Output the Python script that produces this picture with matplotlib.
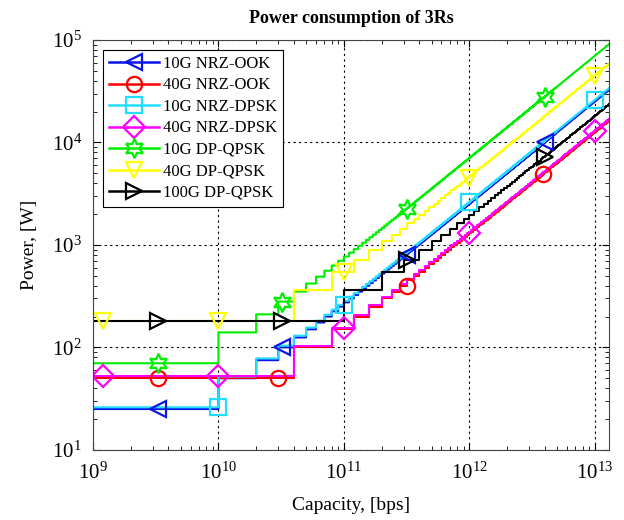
import numpy as np
import matplotlib
matplotlib.use('Agg')
import matplotlib.pyplot as plt
from matplotlib.lines import Line2D

plt.rcParams['font.family'] = ['Liberation Serif', 'DejaVu Serif']
plt.rcParams['mathtext.fontset'] = 'stix'

# ==========================================
# 数据：每种格式的速率和单个 3R 的功耗
# ==========================================
labels = ['10G NRZ-OOK', '40G NRZ-OOK', '10G NRZ-DPSK', '40G NRZ-DPSK',
          '10G DP-QPSK', '40G DP-QPSK', '100G DP-QPSK']
line_rate = [10e9, 40e9, 10e9, 40e9, 10e9, 40e9, 100e9]      # bps
unit_power = [25, 50, 26, 52, 70, 180, 180]                   # W per 3R
colors = ['#0a14e6', '#ff0000', '#22ddff', '#ff00ff', '#00ee00', '#ffff00', '#000000']
markers = ['<', 'o', 's', 'D', (6, 1, 0), 'v', '>']

# 标记点所在的容量位置
marker_caps = [
    [3.3e9, 3.2e10, 3.2e11, 4.0e12],
    [3.3e9, 3.0e10, 3.2e11, 3.9e12],
    [1e10, 1e11, 1e12, 1e13],
    [1.2e9, 1e10, 1e11, 1e12, 1e13],
    [3.3e9, 3.2e10, 3.2e11, 4.0e12],
    [1.2e9, 1e10, 1e11, 1e12, 1e13],
    [3.3e9, 3.2e10, 3.2e11, 4.0e12],
]

cap_min, cap_max = 1e9, 1.3e13


def staircase(rate, unit):
    # 3R 数量 = ceil(容量 / 速率)
    n_max = int(np.ceil(cap_max / rate))
    x = np.concatenate([[cap_min], rate * np.arange(1, n_max + 1)])
    y = unit * np.concatenate([[1], np.arange(2, n_max + 2)])
    return x, y


fig = plt.figure(figsize=(6.24, 5.2), dpi=100)
ax = fig.add_axes([0.149, 0.135, 0.827, 0.788])

for rate, unit, c in zip(line_rate, unit_power, colors):
    x, y = staircase(rate, unit)
    ax.plot(x, y, color=c, lw=1.5, drawstyle='steps-post')

handles = []
for i, lab in enumerate(labels):
    mc = np.array(marker_caps[i])
    my = unit_power[i] * np.ceil(mc / line_rate[i])
    ms = 14 if i == 4 else 11
    ax.plot(mc, my, ls='none', marker=markers[i], ms=ms, mfc='none',
            mec=colors[i], mew=1.6)
    handles.append(Line2D([], [], color=colors[i], lw=1.8, marker=markers[i],
                          ms=ms, mfc='none', mec=colors[i], mew=1.6, label=lab))

ax.set_xscale('log')
ax.set_yscale('log')
ax.set_xlim(cap_min, cap_max)
ax.set_ylim(10, 1e5)

ax.grid(True, which='major', linestyle=(0, (2, 3)), color='k', lw=0.8)
ax.tick_params(which='both', direction='in', top=True, right=True, labelsize=15)
ax.tick_params(which='major', length=5)
ax.tick_params(which='minor', length=3)
ax.tick_params(axis='y', pad=8)
ax.tick_params(axis='x', pad=9)
for s in ax.spines.values():
    s.set_linewidth(0.8)
    s.set_color('#444444')

ax.set_title('Power consumption of 3Rs', fontsize=13, fontweight='bold', pad=12)
ax.set_xlabel('Capacity, [bps]', fontsize=14, labelpad=10)
ax.set_ylabel('Power, [W]', fontsize=14, labelpad=10)

leg = ax.legend(handles=handles, loc='upper left', fontsize=12, numpoints=1,
                handlelength=3.0, handletextpad=0.25, labelspacing=0.33,
                fancybox=False, framealpha=1, edgecolor='k',
                borderaxespad=0.6, borderpad=0.35)
leg.get_frame().set_linewidth(0.8)

plt.savefig('out.png', dpi=100)
